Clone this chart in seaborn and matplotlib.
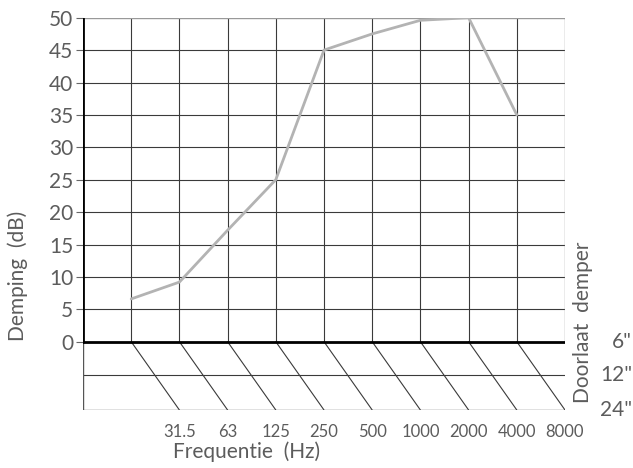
import matplotlib
matplotlib.use("Agg")
import matplotlib.pyplot as plt
import matplotlib.transforms as mtransforms
import seaborn as sns
import pandas as pd

# octave band gridline index -> measured damping
band_index = [1, 2, 3, 4, 5, 6, 7, 8, 9]
damping_db = [6.6, 9.2, 17.2, 25.0, 45.0, 47.5, 49.6, 50.0, 35.0]

freq_labels = ["31.5", "63", "125", "250", "500", "1000", "2000", "4000", "8000"]
freq_ticks = [2, 3, 4, 5, 6, 7, 8, 9, 10]
y_ticks = [0, 5, 10, 15, 20, 25, 30, 35, 40, 45, 50]
size_labels = ['6"', '12"', '24"']

sns.set_style("white")
plt.rcParams["font.family"] = ["Lato", "DejaVu Sans"]
TXT = "#5c5c5c"
GRID = "#3a3a3a"

fig = plt.figure(figsize=(6.33, 4.68), dpi=100)
ax = fig.add_axes([83 / 633, 1 - 410 / 468, 482 / 633, 392.3 / 468])

y_low, y_mid = -10.54, -5.2
ax.set_xlim(0, 10)
ax.set_ylim(y_low, 50)

# upper grid
for x in range(1, 10):
    ax.plot([x, x], [0, 50], color=GRID, lw=0.8, zorder=1)
for y in y_ticks[1:-1]:
    ax.plot([0, 10], [y, y], color=GRID, lw=0.8, zorder=1)
ax.plot([0, 10], [50, 50], color="#999999", lw=1.0, zorder=1)
ax.plot([10, 10], [0, 50], color="#999999", lw=1.0, zorder=1)

# lower box with diagonals (damper lengths)
ax.plot([0, 10], [y_mid, y_mid], color=GRID, lw=0.8, zorder=1)
ax.plot([0, 10], [y_low, y_low], color="#666666", lw=1.0, zorder=1)
ax.plot([0, 0], [y_low, 0], color="#555555", lw=1.0, zorder=1)
for x in range(1, 10):
    ax.plot([x, x + 1], [0, y_low], color=GRID, lw=0.8, zorder=1)

# axes lines
ax.plot([0, 10], [0, 0], color="black", lw=2.0, zorder=3)
ax.plot([0, 0], [0, 50], color="black", lw=2.0, zorder=3)

df = pd.DataFrame({"band": band_index, "damping": damping_db})
sns.lineplot(data=df, x="band", y="damping", ax=ax, color="#b3b3b3", lw=2.0, zorder=2)

for s in ax.spines.values():
    s.set_visible(False)

ax.set_yticks(y_ticks)
ax.set_yticklabels([str(v) for v in y_ticks], fontsize=15, color=TXT)
ax.tick_params(axis="y", length=5, width=0.8, color="#666666", pad=2, left=True)
ax.set_xticks(freq_ticks)
ax.set_xticklabels(freq_labels, fontsize=12, color=TXT)
ax.tick_params(axis="x", length=0, pad=10)
ax.set_xlabel("")
ax.set_ylabel("")

fig.text(18 / 633, 1 - 276 / 468, "Demping  (dB)", rotation=90, ha="center", va="center",
         fontsize=15, color=TXT)
fig.text(247 / 633, 1 - 452 / 468, "Frequentie  (Hz)", ha="center", va="center",
         fontsize=15, color=TXT)
fig.text(583 / 633, 1 - 322 / 468, "Doorlaat  demper", rotation=90, ha="center", va="center",
         fontsize=15, color=TXT)

# damper length labels: x in figure coords, y in data coords
size_tf = mtransforms.blended_transform_factory(fig.transFigure, ax.transData)
for lab, yv in zip(size_labels, [0, y_mid, y_low]):
    ax.text(632 / 633, yv, lab, transform=size_tf, ha="right", va="center",
            fontsize=15, color=TXT)

fig.savefig("out.png", dpi=100)
